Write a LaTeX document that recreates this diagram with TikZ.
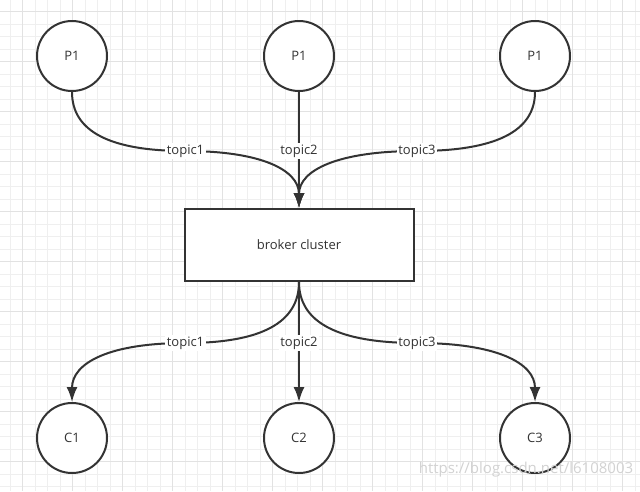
\documentclass[tikz,border=0pt]{standalone}
\usepackage{fontspec}
\setmainfont{Open Sans}
\usepackage{tikz}
\usetikzlibrary{arrows.meta,calc}
\pgfdeclarelayer{bg}
\pgfsetlayers{bg,main}
\definecolor{ink}{HTML}{333333}
\definecolor{gridlo}{HTML}{EFEFEF}
\definecolor{gridhi}{HTML}{E2E2E2}
\tikzset{
    every node/.style={font=\fontsize{13}{15}\selectfont, text=ink},
    peer/.style={circle, draw=ink, line width=2pt, fill=white, minimum size=70pt, inner sep=0pt},
    cluster/.style={rectangle, draw=ink, line width=2pt, fill=white, minimum width=229pt, minimum height=72pt},
    topic/.style={fill=white, inner sep=1.5pt},
    link/.style={draw=ink, line width=2pt, -{Latex[length=15pt,width=11pt]}}
}

\begin{document}
\begin{tikzpicture}[x=1pt, y=-1pt]
  \useasboundingbox (0,0) rectangle (640,491);
  \begin{pgfonlayer}{bg}
    \fill[white] (0,0) rectangle (640,491);
    \foreach \k in {0,...,51} \draw[gridlo, line width=1pt] (10.2+12.5*\k,0) -- (10.2+12.5*\k,491);
    \foreach \k in {0,...,40} \draw[gridlo, line width=1pt] (0,-1+12.5*\k) -- (640,-1+12.5*\k);
    \foreach \k in {0,...,12} \draw[gridhi, line width=1pt] (22.7+50*\k,0) -- (22.7+50*\k,491);
    \foreach \k in {0,...,9} \draw[gridhi, line width=1pt] (0,11.5+50*\k) -- (640,11.5+50*\k);
  \end{pgfonlayer}

  \node (p1) [peer] at (72,56) {P1};
  \node (p2) [peer] at (299,56) {P1};
  \node (p3) [peer] at (535,56) {P1};
  \node (broker) [cluster] at (299,245) {broker cluster};
  \node (c1) [peer] at (72,438) {C1};
  \node (c2) [peer] at (299,438) {C2};
  \node (c3) [peer] at (535,438) {C3};

  \coordinate (t1) at (185.5,151);
  \coordinate (t2) at (299,151);
  \coordinate (t3) at (417,151);
  \coordinate (b1) at (185.5,343);
  \coordinate (b2) at (299,343);
  \coordinate (b3) at (417,343);

  % producers to the cluster
  \draw[link] (p1.south)
    .. controls ($(p1.south)!2/3!(p1 |- t1)$) and ($(t1)!2/3!(p1 |- t1)$) .. (t1)
    .. controls ($(t1)!2/3!(broker |- t1)$) and ($(broker.north)!2/3!(broker |- t1)$) .. (broker.north);
  \draw[link] (p2.south) -- (broker.north);
  \draw[link] (p3.south)
    .. controls ($(p3.south)!2/3!(p3 |- t3)$) and ($(t3)!2/3!(p3 |- t3)$) .. (t3)
    .. controls ($(t3)!2/3!(broker |- t3)$) and ($(broker.north)!2/3!(broker |- t3)$) .. (broker.north);

  % cluster to the consumers
  \draw[link] (broker.south)
    .. controls ($(broker.south)!2/3!(broker |- b1)$) and ($(b1)!2/3!(broker |- b1)$) .. (b1)
    .. controls ($(b1)!2/3!(c1 |- b1)$) and ($(c1.north)!2/3!(c1 |- b1)$) .. (c1.north);
  \draw[link] (broker.south) -- (c2.north);
  \draw[link] (broker.south)
    .. controls ($(broker.south)!2/3!(broker |- b3)$) and ($(b3)!2/3!(broker |- b3)$) .. (b3)
    .. controls ($(b3)!2/3!(c3 |- b3)$) and ($(c3.north)!2/3!(c3 |- b3)$) .. (c3.north);

  \node (lt1) [topic] at (t1) {topic1};
  \node (lt2) [topic] at (t2) {topic2};
  \node (lt3) [topic] at (t3) {topic3};
  \node (lb1) [topic] at (b1) {topic1};
  \node (lb2) [topic] at (b2) {topic2};
  \node (lb3) [topic] at (b3) {topic3};

  \node (mark) [text=gray!35, font=\fontsize{15}{17}\selectfont] at (526,470) {https://blog.csdn.net/l6108003};
\end{tikzpicture}
\end{document}
